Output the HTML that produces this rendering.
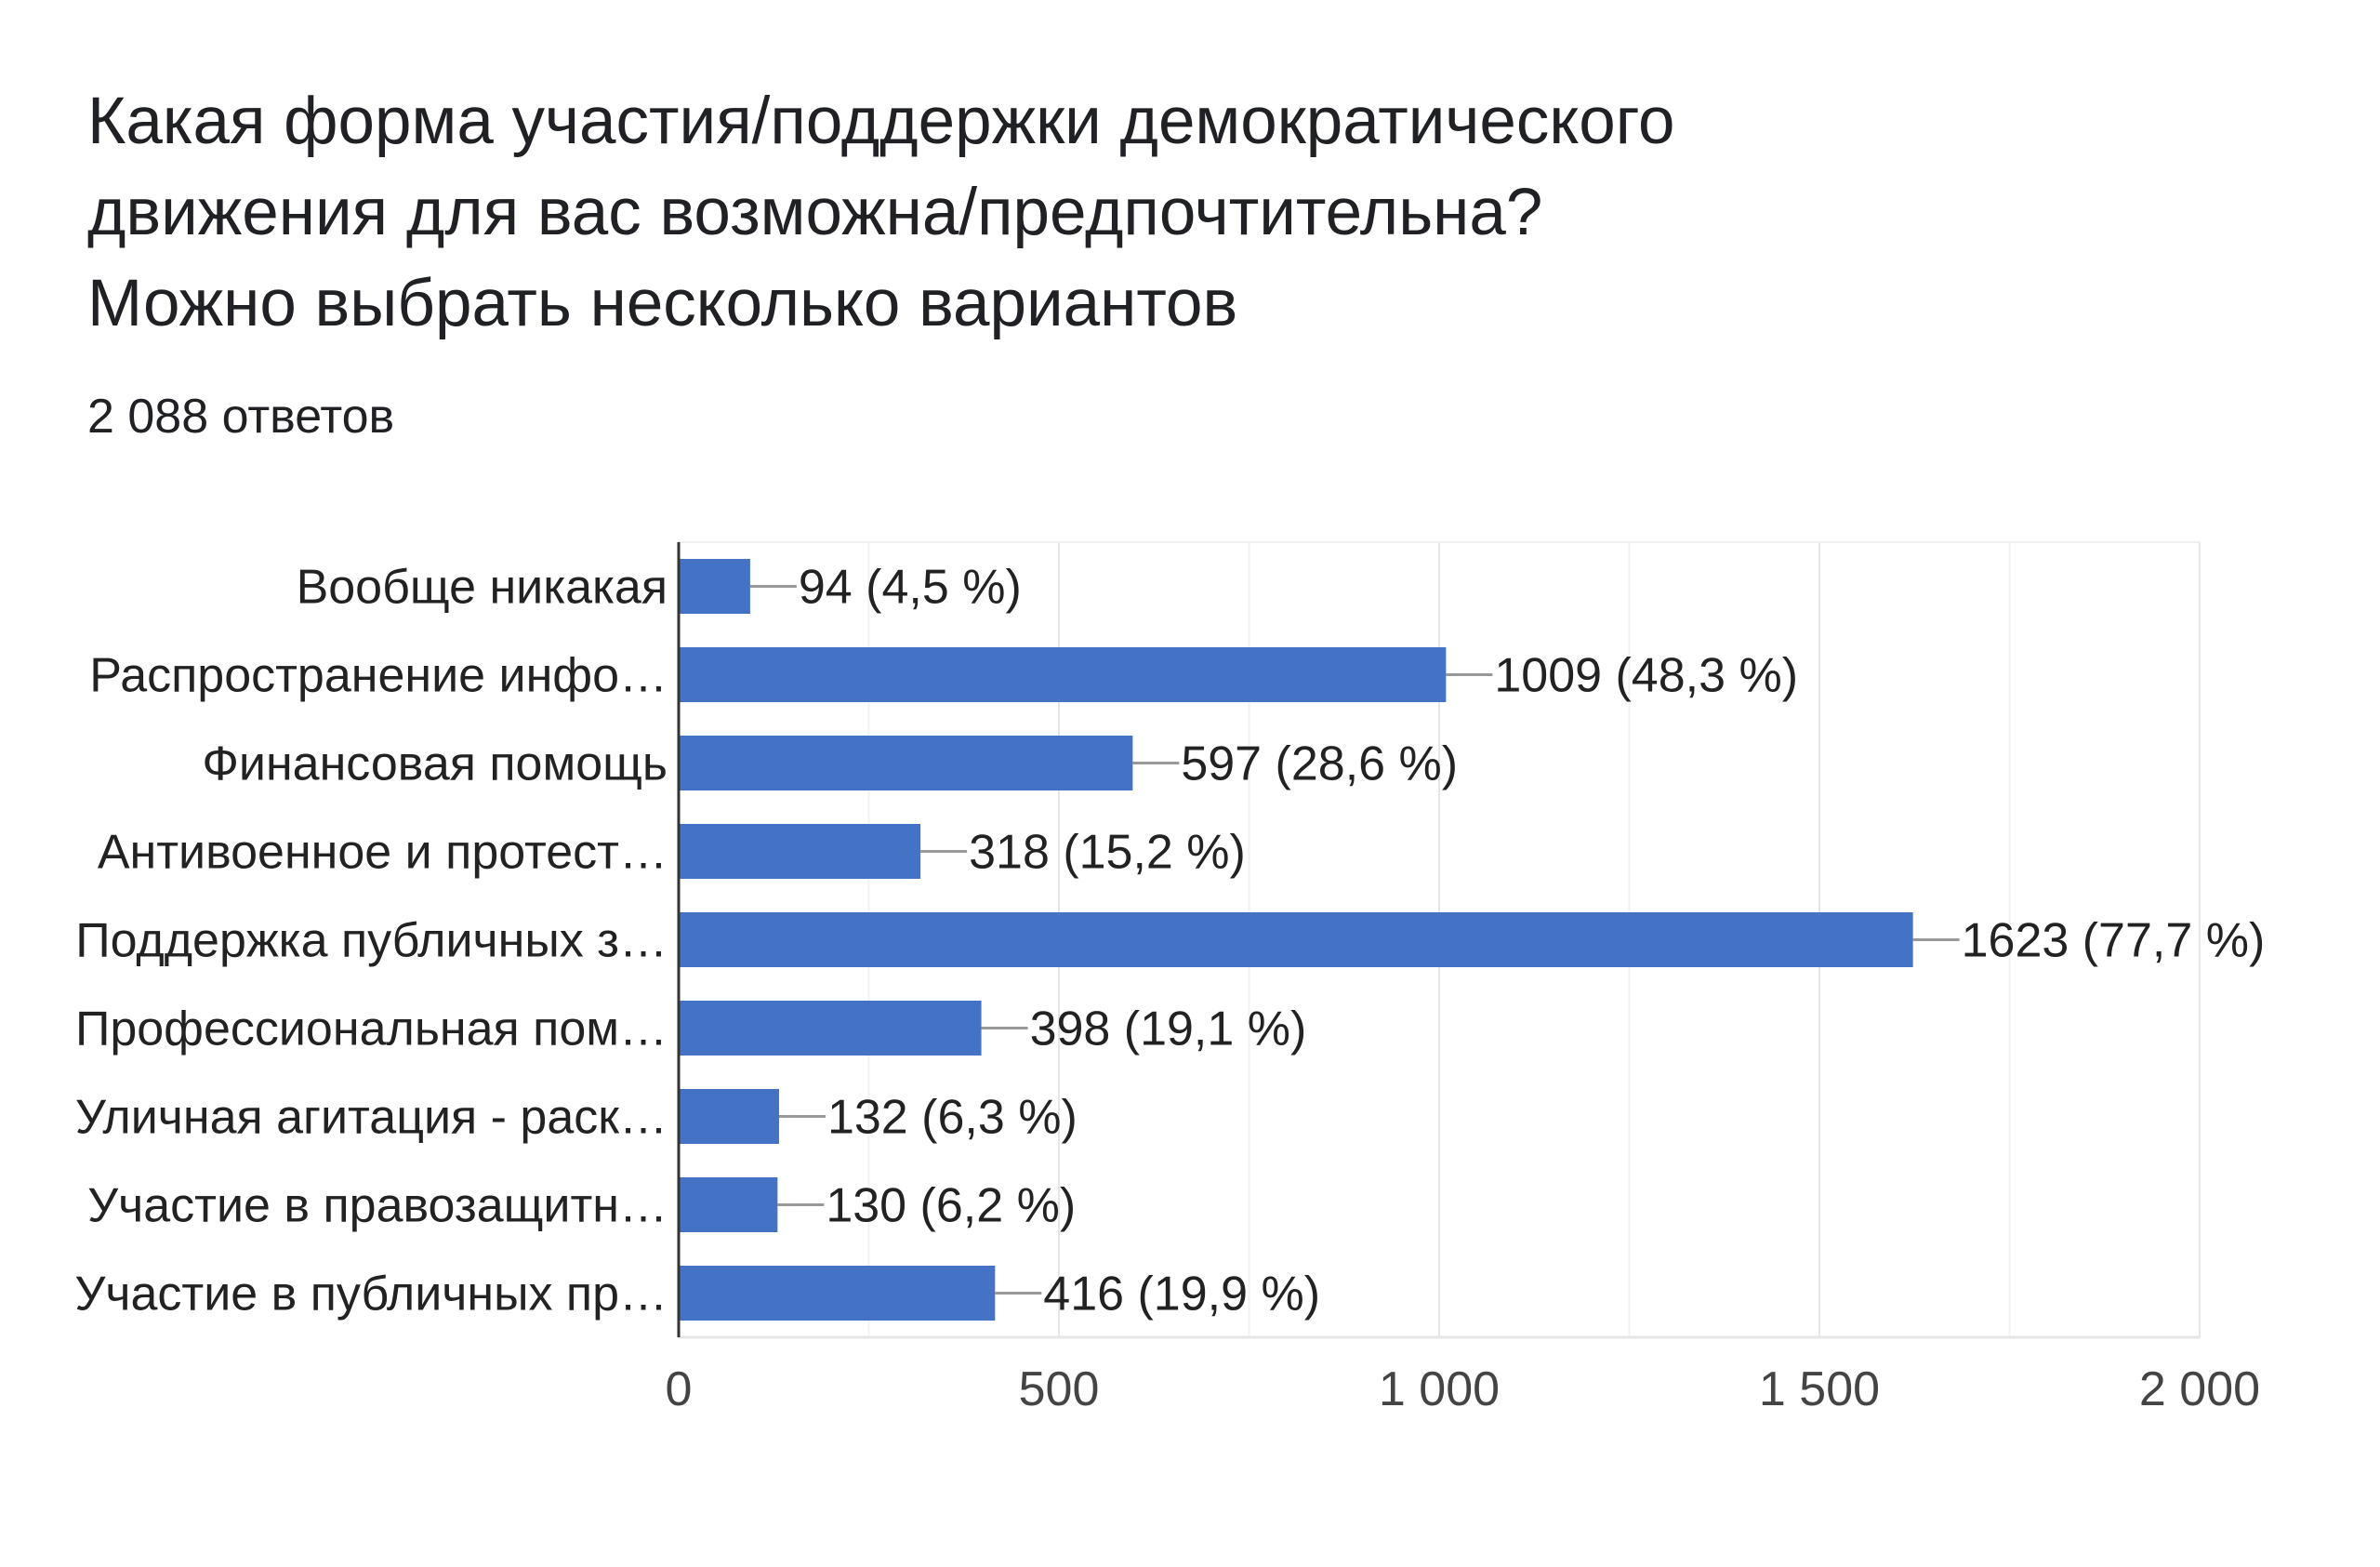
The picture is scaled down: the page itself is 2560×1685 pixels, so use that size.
<!DOCTYPE html>
<html><head><meta charset="utf-8"><style>
body{margin:0;background:#fff;width:2560px;height:1685px;overflow:hidden;font-family:"Liberation Sans",Arial,sans-serif;}
.card{position:absolute;left:0;top:0;width:2560px;height:1685px;background:#fff;}
.title{position:absolute;left:94px;top:82px;font-size:71px;line-height:98px;color:#202124;}
.sub{position:absolute;left:94px;top:418px;font-size:52px;color:#202124;}
</style></head><body>
<div class="card">
<div class="title">Какая форма участия/поддержки демократического<br>движения для вас возможна/предпочтительна?<br>Можно выбрать несколько вариантов</div>
<div class="sub">2 088 ответов</div>
<svg id="chart" width="2560" height="1685" style="position:absolute;left:0;top:0"></svg>
</div>
<script>
const categories=["Вообще никакая","Распространение инфо…","Финансовая помощь","Антивоенное и протест…","Поддержка публичных з…","Профессиональная пом…","Уличная агитация - раск…","Участие в правозащитн…","Участие в публичных пр…"];
const values=[94,1009,597,318,1623,398,132,130,416];
const percents=["4,5","48,3","28,6","15,2","77,7","19,1","6,3","6,2","19,9"];
const tickValues=[0,500,1000,1500,2000];
const tickLabels=["0","500","1 000","1 500","2 000"];
const svg=document.getElementById('chart');
const NS='http://www.w3.org/2000/svg';
const x0=730,x1=2366,plotTop=583,plotBottom=1438,maxV=2000;
const xs=v=>x0+(v/maxV)*(x1-x0);
const band=(plotBottom-plotTop)/categories.length;
const yc=i=>plotTop+band*(i+0.5);
const bh=59;
const FS=52;
function mk(t,a){const e=document.createElementNS(NS,t);for(const k in a)e.setAttribute(k,a[k]);svg.appendChild(e);return e;}
for(let v=250;v<=maxV;v+=250){const g=mk('line',{x1:xs(v),x2:xs(v),y1:plotTop,y2:plotBottom,stroke:v%500===0?'#e6e6e6':'#f2f2f2','stroke-width':2});

}
const tl=mk('line',{x1:x0,x2:x1,y1:plotTop,y2:plotTop,stroke:'#f0f0f0','stroke-width':2});


const bl=mk('line',{x1:x0,x2:x1,y1:plotBottom,y2:plotBottom,stroke:'#e6e6e6','stroke-width':3});


tickValues.forEach((v,i)=>{const t=mk('text',{x:xs(v),y:1511,'text-anchor':'middle','font-size':FS,fill:'#444'});t.textContent=tickLabels[i];

});
categories.forEach((c,i)=>{
const y=yc(i);
const r=mk('rect',{x:x0,y:y-bh/2,width:xs(values[i])-x0,height:bh,fill:'#4472c4'});


const l=mk('text',{x:x0-12,y:y+18,'text-anchor':'end','font-size':FS,fill:'#222'});l.textContent=c;


const ex=xs(values[i]);
const ln=mk('line',{x1:ex,x2:ex+50,y1:y,y2:y,stroke:'#999','stroke-width':3});


const vt=mk('text',{x:ex+52,y:y+18,'font-size':FS,fill:'#222'});vt.textContent=values[i]+' ('+percents[i]+' %)';


});
const ax=mk('line',{x1:x0,x2:x0,y1:plotTop,y2:plotBottom,stroke:'#333','stroke-width':3});


</script>
</body></html>
